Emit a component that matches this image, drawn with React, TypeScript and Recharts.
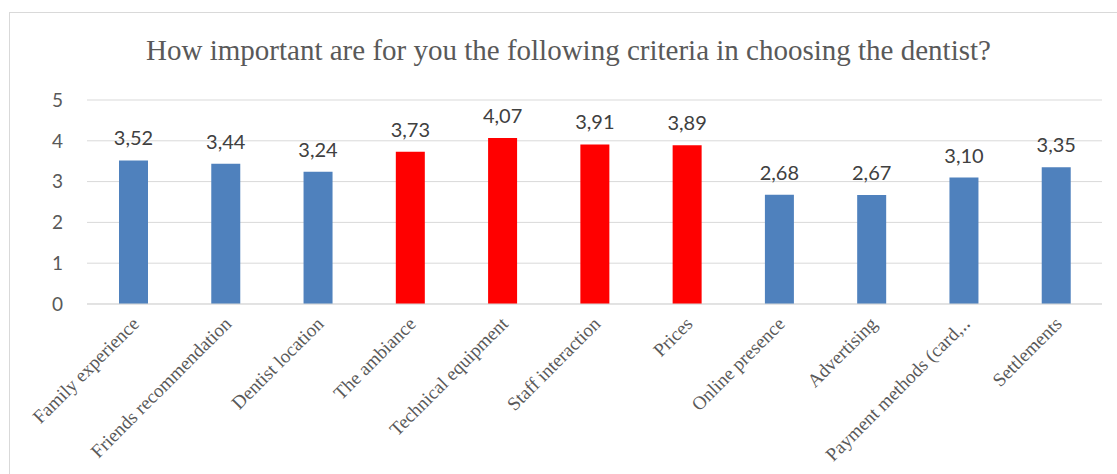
import { BarChart, Bar, XAxis, YAxis, CartesianGrid, Cell, LabelList } from "recharts";

const categories = [
  "Family experience",
  "Friends recommendation",
  "Dentist location",
  "The ambiance",
  "Technical equipment",
  "Staff interaction",
  "Prices",
  "Online presence",
  "Advertising",
  "Payment methods (card,\u2025",
  "Settlements",
];
const scores = [3.52, 3.44, 3.24, 3.73, 4.07, 3.91, 3.89, 2.68, 2.67, 3.1, 3.35];
const highlighted = ["The ambiance", "Technical equipment", "Staff interaction", "Prices"];
const yTicks = [0, 1, 2, 3, 4, 5];

const data = categories.map((name, i) => ({ name, score: scores[i] }));

const BLUE = "#4F81BD";
const RED = "#FF0000";
const GREY = "#595959";

const fmt = (v: number) => v.toFixed(2).replace(".", ",");

const XTick = ({ x, y, payload }: any) => (
  <g transform={`translate(${x + 7},${y + 13})`}>
    <text
      transform="rotate(-45)"
      textAnchor="end"
      fill={GREY}
      fontFamily="'Liberation Serif', serif"
      fontSize={19}
    >
      {payload.value}
    </text>
  </g>
);

export default function App() {
  return (
    <div style={{ position: "relative", width: 1117, height: 474, overflow: "hidden", background: "#fff" }}>
      <style>{"body{margin:0}"}</style>
      <div
        style={{
          position: "absolute",
          left: 9,
          top: 12,
          width: 1130,
          height: 480,
          border: "1px solid #D9D9D9",
          boxSizing: "border-box",
        }}
      />
      <div
        style={{
          position: "absolute",
          top: 33,
          left: 0,
          width: 1137,
          textAlign: "center",
          fontFamily: "'Liberation Serif', serif",
          fontSize: 29,
          lineHeight: "34px",
          color: GREY,
        }}
      >
        How important are for you the following criteria in choosing the dentist?
      </div>
      <div style={{ position: "absolute", left: 0, top: 0 }}>
        <BarChart
          width={1117}
          height={474}
          data={data}
          margin={{ top: 100, right: 15, left: 0, bottom: 0 }}
        >
          <CartesianGrid vertical={false} stroke="#D9D9D9" />
          <XAxis
            dataKey="name"
            interval={0}
            height={170}
            tickLine={false}
            axisLine={{ stroke: "#D9D9D9" }}
            tick={<XTick />}
          />
          <YAxis
            width={87}
            domain={[0, 5]}
            ticks={yTicks}
            axisLine={false}
            tickLine={false}
            tickMargin={18}
            tick={{ fill: GREY, fontSize: 19, fontFamily: "Lato, sans-serif" }}
          />
          <Bar dataKey="score" barSize={29} isAnimationActive={false}>
            {data.map((d) => (
              <Cell key={d.name} fill={highlighted.includes(d.name) ? RED : BLUE} />
            ))}
            <LabelList
              dataKey="score"
              position="top"
              offset={15}
              formatter={(v: any) => fmt(Number(v))}
              fill="#404040"
              fontSize={20}
              fontFamily="Lato, sans-serif"
            />
          </Bar>
        </BarChart>
      </div>
    </div>
  );
}
